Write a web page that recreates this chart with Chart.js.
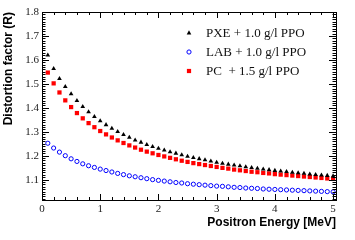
<!DOCTYPE html>
<html>
<head>
<meta charset="utf-8">
<script src="https://cdn.jsdelivr.net/npm/chart.js@4.4.0/dist/chart.umd.min.js"></script>
<style>
  html, body { margin: 0; padding: 0; background: #fff; }
</style>
</head>
<body>
<canvas id="distChart" width="355" height="240"></canvas>
<script>
// positron energy [MeV]
const energies = [
    0.1, 0.2, 0.3, 0.4, 0.5, 0.6, 0.7, 0.8, 0.9, 1.0,
    1.1, 1.2, 1.3, 1.4, 1.5, 1.6, 1.7, 1.8, 1.9, 2.0,
    2.1, 2.2, 2.3, 2.4, 2.5, 2.6, 2.7, 2.8, 2.9, 3.0,
    3.1, 3.2, 3.3, 3.4, 3.5, 3.6, 3.7, 3.8, 3.9, 4.0,
    4.1, 4.2, 4.3, 4.4, 4.5, 4.6, 4.7, 4.8, 4.9, 5.0
];

const pxeValues = [
    1.620, 1.563, 1.522, 1.488, 1.458, 1.430, 1.405, 1.383, 1.363, 1.345,
    1.329, 1.314, 1.300, 1.288, 1.276, 1.265, 1.256, 1.246, 1.238, 1.230,
    1.223, 1.216, 1.210, 1.203, 1.197, 1.192, 1.187, 1.182, 1.177, 1.172,
    1.168, 1.164, 1.160, 1.157, 1.153, 1.150, 1.147, 1.144, 1.141, 1.138,
    1.135, 1.133, 1.130, 1.128, 1.126, 1.123, 1.121, 1.119, 1.117, 1.115
];

const labValues = [
    1.252, 1.232, 1.215, 1.200, 1.187, 1.176, 1.166, 1.158, 1.151, 1.144,
    1.138, 1.132, 1.126, 1.121, 1.116, 1.112, 1.108, 1.104, 1.100, 1.097,
    1.094, 1.091, 1.088, 1.086, 1.083, 1.081, 1.079, 1.077, 1.075, 1.073,
    1.072, 1.070, 1.068, 1.067, 1.065, 1.064, 1.063, 1.061, 1.060, 1.059,
    1.058, 1.057, 1.056, 1.055, 1.054, 1.053, 1.052, 1.051, 1.050, 1.049
];

const pcValues = [
    1.547, 1.502, 1.464, 1.431, 1.403, 1.378, 1.356, 1.336, 1.319, 1.303,
    1.289, 1.276, 1.264, 1.253, 1.243, 1.234, 1.225, 1.217, 1.210, 1.203,
    1.197, 1.191, 1.185, 1.179, 1.174, 1.169, 1.165, 1.161, 1.157, 1.153,
    1.149, 1.146, 1.142, 1.139, 1.136, 1.133, 1.131, 1.128, 1.126, 1.123,
    1.121, 1.119, 1.117, 1.115, 1.113, 1.111, 1.109, 1.107, 1.105, 1.103
];

const seriesLabels = ["PXE + 1.0 g/l PPO", "LAB + 1.0 g/l PPO", "PC  + 1.5 g/l PPO"];
const xTickValues = [0, 1, 2, 3, 4, 5];
const yTickValues = [1.1, 1.2, 1.3, 1.4, 1.5, 1.6, 1.7, 1.8];

const toPoints = (vals) => energies.map((e, i) => ({ x: e, y: vals[i] }));

// ROOT style frame: box with inward major / minor ticks on all sides
const frameTicks = {
    id: "frameTicks",
    afterDatasetsDraw(chart) {
        const { ctx, chartArea: a, scales } = chart;
        const xs = scales.x, ys = scales.y;
        ctx.save();
        ctx.strokeStyle = "#000";
        ctx.lineWidth = 1;
        ctx.beginPath();
        for (let i = 0; i <= 25; i++) {
            const px = Math.round(xs.getPixelForValue(i * 0.2)) + 0.5;
            const len = i % 5 === 0 ? 6 : 3;
            ctx.moveTo(px, a.bottom); ctx.lineTo(px, a.bottom - len);
            ctx.moveTo(px, a.top); ctx.lineTo(px, a.top + len);
        }
        for (let i = 102; i <= 180; i++) {
            const py = Math.round(ys.getPixelForValue(i / 100)) + 0.5;
            const len = i % 10 === 0 ? 7 : 3.5;
            ctx.moveTo(a.left, py); ctx.lineTo(a.left + len, py);
            ctx.moveTo(a.right, py); ctx.lineTo(a.right - len, py);
        }
        ctx.stroke();
        ctx.strokeRect(Math.round(a.left) + 0.5, Math.round(a.top) + 0.5,
            Math.round(a.right - a.left), Math.round(a.bottom - a.top));
        ctx.restore();
    }
};

function drawMarker(ctx, style, x, y, color) {
    ctx.beginPath();
    if (style === "triangle") {
        ctx.fillStyle = color;
        ctx.moveTo(x, y - 2.7);
        ctx.lineTo(x + 2.3, y + 1.4);
        ctx.lineTo(x - 2.3, y + 1.4);
        ctx.closePath();
        ctx.fill();
    } else if (style === "circle") {
        ctx.strokeStyle = color;
        ctx.lineWidth = 1;
        ctx.arc(x, y, 2.1, 0, Math.PI * 2);
        ctx.stroke();
    } else {
        ctx.fillStyle = color;
        ctx.fillRect(x - 2.1, y - 2.1, 4.2, 4.2);
    }
}

const boxLegend = {
    id: "boxLegend",
    afterDraw(chart) {
        const { ctx } = chart;
        ctx.save();
        ctx.font = "13px 'Liberation Serif'";
        ctx.textBaseline = "middle";
        chart.data.datasets.forEach((ds, i) => {
            const y = 33 + i * 19;
            drawMarker(ctx, ds.pointStyle, 189, y, ds.borderColor);
            ctx.fillStyle = "#111";
            ctx.fillText(ds.label, 206, y + 0.5);
        });
        ctx.restore();
    }
};

const tickFont = { family: "'Liberation Serif'", size: 11 };
const titleFont = { family: "'Liberation Sans'", size: 12, weight: "bold" };

new Chart(document.getElementById("distChart"), {
    type: "scatter",
    data: {
        datasets: [
            {
                label: seriesLabels[0],
                data: toPoints(pxeValues),
                pointStyle: "triangle",
                pointRadius: 2.7,
                backgroundColor: "#000",
                borderColor: "#000",
                borderWidth: 0
            },
            {
                label: seriesLabels[1],
                data: toPoints(labValues),
                pointStyle: "circle",
                pointRadius: 2.1,
                backgroundColor: "rgba(0,0,0,0)",
                borderColor: "#0000ff",
                borderWidth: 1
            },
            {
                label: seriesLabels[2],
                data: toPoints(pcValues),
                pointStyle: "rect",
                pointRadius: 3,
                backgroundColor: "#ff0000",
                borderColor: "#ff0000",
                borderWidth: 0
            }
        ]
    },
    options: {
        responsive: false,
        animation: false,
        devicePixelRatio: 1,
        layout: { padding: { left: 0, right: 19, top: 12, bottom: 0 } },
        plugins: {
            legend: { display: false },
            tooltip: { enabled: false }
        },
        scales: {
            x: {
                type: "linear",
                min: 0,
                max: 5.05,
                grid: { display: false, drawTicks: false },
                border: { display: false },
                afterBuildTicks: (s) => { s.ticks = xTickValues.map(v => ({ value: v })); },
                afterFit: (s) => { s.height = 40; },
                ticks: { font: tickFont, color: "#222", padding: 3, maxRotation: 0 },
                title: {
                    display: true,
                    text: "Positron Energy [MeV]",
                    align: "end",
                    font: titleFont,
                    color: "#000",
                    padding: { top: 0, bottom: 10 }
                }
            },
            y: {
                type: "linear",
                min: 1.015,
                max: 1.8,
                grid: { display: false, drawTicks: false },
                border: { display: false },
                afterBuildTicks: (s) => { s.ticks = yTickValues.map(v => ({ value: v })); },
                afterFit: (s) => { s.width = 42; },
                ticks: { font: tickFont, color: "#222", padding: 3 },
                title: {
                    display: true,
                    text: "Distortion factor (R)",
                    align: "end",
                    font: titleFont,
                    color: "#000",
                    padding: { top: 1, bottom: 0 }
                }
            }
        }
    },
    plugins: [frameTicks, boxLegend]
});
</script>
</body>
</html>
